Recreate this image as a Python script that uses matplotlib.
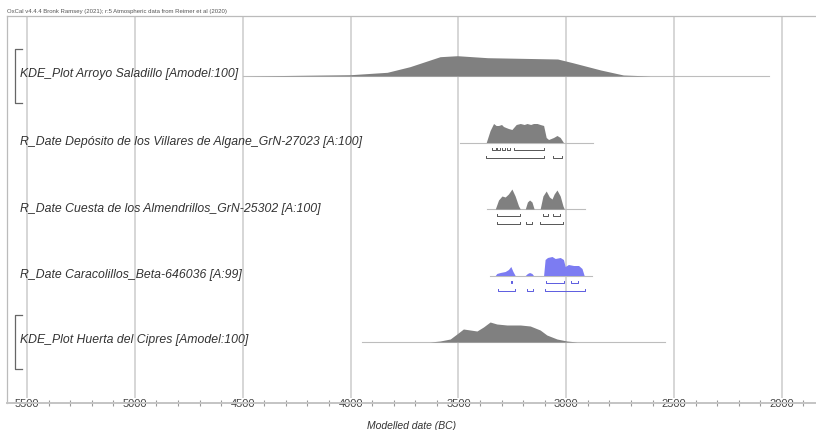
#!/usr/bin/env python3
# OxCal multiplot: KDE and R_Date distributions (Modelled date BC)

import numpy as np
import matplotlib.pyplot as plt
import matplotlib.transforms as mtransforms

# etichette delle righe
etichette = ['KDE_Plot Arroyo Saladillo [Amodel:100]',
             'R_Date Depósito de los Villares de Algane_GrN-27023 [A:100]',
             'R_Date Cuesta de los Almendrillos_GrN-25302 [A:100]',
             'R_Date Caracolillos_Beta-646036 [A:99]',
             'KDE_Plot Huerta del Cipres [Amodel:100]']
tipo_kde = [True, False, False, False, True]

# distribuzioni: date (BC) e densita' relativa (pixel di altezza)
date_arroyo = [4500, 4000, 3830, 3725, 3585, 3505, 3365, 3040, 2970, 2840, 2735, 2610, 2060]
dens_arroyo = [0, 1.3, 3.7, 9.3, 19.3, 20.3, 18.3, 17, 13.3, 6, 1, 0, 0]

date_deposito = [3492, 3371, 3353, 3337, 3325, 3314, 3300, 3291, 3280, 3268, 3252, 3232, 3213,
                 3195, 3182, 3165, 3152, 3135, 3121, 3105, 3093, 3082, 3059, 3043, 3028, 3013, 2875]
dens_deposito = [0, 0, 12, 19, 17, 17, 18, 16, 15, 14, 13, 18, 19,
                 18, 19, 18, 19, 19, 18, 17, 5, 3, 5, 7, 5, 0, 0]

date_cuesta = [3367, 3329, 3314, 3298, 3283, 3268, 3252, 3237, 3221, 3213, 3190, 3180, 3170,
               3159, 3149, 3121, 3108, 3093, 3078, 3066, 3056, 3043, 3028, 3015, 3009, 2912]
dens_cuesta = [0, 0, 9, 13, 12, 15, 20, 13, 3, 0, 0, 7, 9,
               7, 0, 0, 13, 18, 12, 10, 15, 19, 13, 3, 0, 0]

date_caracolillos = [3353, 3329, 3322, 3306, 3283, 3268, 3257, 3247, 3237, 3190, 3180, 3170, 3159,
                     3152, 3105, 3098, 3087, 3066, 3051, 3028, 3013, 3005, 2990, 2966, 2943, 2927,
                     2917, 2880]
dens_caracolillos = [0, 0, 2, 3, 4, 6, 9, 4, 0, 0, 2, 3, 2,
                     0, 0, 16, 18, 19, 17, 18, 16, 9, 11, 10, 10, 7,
                     0, 0]

date_huerta = [3946, 3631, 3585, 3538, 3507, 3477, 3445, 3414, 3384, 3353, 3322, 3275, 3213,
               3167, 3121, 3090, 3043, 2997, 2950, 2541]
dens_huerta = [0, 0, 1, 3, 8, 13, 12, 11, 15, 20, 18, 17, 17,
               16, 12, 7, 3, 1, 0, 0]

date_righe = [date_arroyo, date_deposito, date_cuesta, date_caracolillos, date_huerta]
dens_righe = [dens_arroyo, dens_deposito, dens_cuesta, dens_caracolillos, dens_huerta]

# intervalli 68.3% e 95.4% (BC)
int68 = [None,
         [(3345, 3328), (3322, 3305), (3300, 3282), (3276, 3260), (3240, 3105)],
         [(3320, 3213), (3107, 3084), (3060, 3028)],
         [(3256, 3250), (3095, 3010), (2980, 2945)],
         None]
int95 = [None,
         [(3370, 3105), (3060, 3020)],
         [(3320, 3213), (3185, 3158), (3121, 3014)],
         [(3315, 3237), (3180, 3155), (3100, 2915)],
         None]

grigio = '#808080'
blu = '#7c7cf2'
colori = [grigio, grigio, grigio, blu, grigio]

# parte grafica
W, H = 816, 431
fig = plt.figure(figsize=(W / 100, H / 100), dpi=100, facecolor='white')
plt.rcParams['font.family'] = ['Liberation Sans', 'DejaVu Sans']
ax = fig.add_axes([7 / W, 27 / H, (W - 7) / W, (404 - 17) / H])

px = 66.5  # pixel per riga
scala = 1 / px
ax.set_xlim(5593, 1842)
ax.set_ylim(4 + 61 / px, -60 / px)

trans = mtransforms.blended_transform_factory(ax.transAxes, ax.transData)

for i, (d, h) in enumerate(zip(date_righe, dens_righe)):
    d = np.array(d, dtype=float)
    h = np.array(h, dtype=float) * scala
    ax.plot([d.min(), d.max()], [i, i], color='#bdbdbd', lw=0.8, zorder=2)
    ax.fill_between(d, i, i - h, color=colori[i], lw=0, zorder=3)
    ax.text(0.016, i - (3 if tipo_kde[i] else 1) / px, etichette[i], transform=trans,
            style='italic', fontsize=8.8, color='#333333', va='center', ha='left', zorder=4)
    if tipo_kde[i]:
        # parentesi quadra a sinistra
        ax.plot([0.0185, 0.0099, 0.0099, 0.0185], [i - 27 / px, i - 27 / px, i + 27 / px, i + 27 / px],
                transform=trans, color='#666666', lw=0.9, clip_on=False, zorder=4)
    else:
        col_b = '#5b5be0' if colori[i] == blu else '#555555'
        for intervalli, off in ((int68[i], 7), (int95[i], 15)):
            yb = i + off / px
            for a, b in intervalli:
                ax.plot([a, a, b, b], [yb - 2 / px, yb, yb, yb - 2 / px],
                        color=col_b, lw=0.7, zorder=4)

# assi e griglia
tick_maggiori = np.arange(5500, 1999, -500)
ax.set_xticks(tick_maggiori)
ax.set_xticks(np.arange(5500, 1800, -100), minor=True)
ax.set_yticks([])
ax.grid(axis='x', which='major', color='#d6d6d6', lw=1.4, zorder=0)
ax.tick_params(axis='x', which='major', length=0, pad=-3.3, labelsize=8, labelcolor='#444444')
ax.tick_params(axis='x', which='minor', direction='inout', length=4, color='#999999', width=0.8)
for lbl in ax.get_xticklabels():
    lbl.set_bbox(dict(facecolor='white', edgecolor='none', pad=0.6))
    lbl.set_zorder(5)
for lato in ['top', 'left']:
    ax.spines[lato].set_color('#bbbbbb')
    ax.spines[lato].set_linewidth(0.9)
ax.spines['bottom'].set_color('#c4c4c4')
ax.spines['bottom'].set_linewidth(1.4)
ax.spines['right'].set_visible(False)

ax.set_xlabel('Modelled date (BC)', style='italic', fontsize=7.5, color='#333333', labelpad=6.5)
fig.text(7 / W, 1 - 12 / H, 'OxCal v4.4.4 Bronk Ramsey (2021); r:5 Atmospheric data from Reimer et al (2020)',
         fontsize=4.3, color='#555555', va='center', ha='left')

plt.savefig('out.png', dpi=100, facecolor='white')
